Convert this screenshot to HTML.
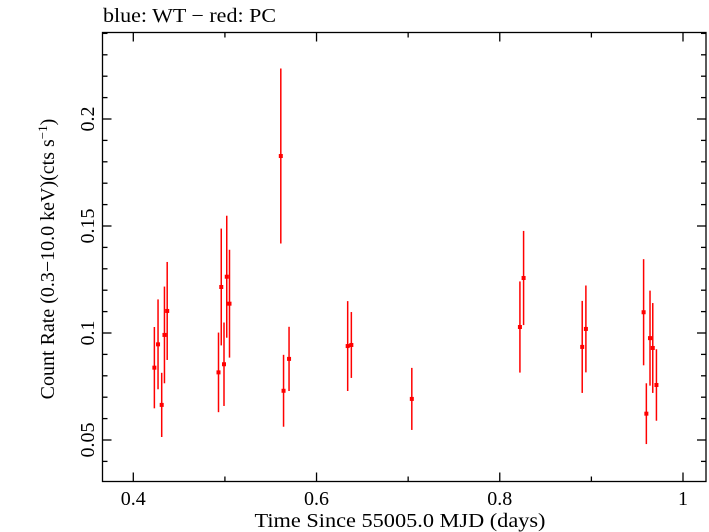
<!DOCTYPE html>
<html><head><meta charset="utf-8">
<style>
html,body{margin:0;padding:0;background:#fff;}
svg{display:block;font-family:"Liberation Serif",serif;}
</style></head>
<body>
<svg id="chart" width="709" height="532" viewBox="0 0 709 532" xmlns="http://www.w3.org/2000/svg">
<text x="103" y="22" font-size="20" textLength="173" lengthAdjust="spacingAndGlyphs">blue: WT − red: PC</text>
<rect x="102.5" y="32.5" width="603.5" height="449" fill="none" stroke="#000" stroke-width="1.3"/>
<g id="ticks"></g>
<g id="labels" font-size="20"></g>
<g id="marks"></g>
<text x="400" y="527" font-size="20" text-anchor="middle" textLength="291" lengthAdjust="spacingAndGlyphs">Time Since 55005.0 MJD (days)</text>
<text transform="translate(54,259) rotate(-90)" font-size="20" text-anchor="middle">Count Rate (0.3−10.0 keV)(cts s<tspan font-size="13" dy="-7">−1</tspan><tspan dy="7">)</tspan></text>
</svg>
<script>
const times=[0.423,0.427,0.431,0.434,0.437,0.493,0.496,0.499,0.502,0.505,0.561,0.564,0.570,0.634,0.638,0.704,0.822,0.826,0.890,0.894,0.957,0.960,0.964,0.967,0.971];
const rates=[0.0838,0.0947,0.0664,0.0991,0.1103,0.0816,0.1215,0.0854,0.1263,0.1137,0.1827,0.0730,0.0879,0.0939,0.0944,0.0692,0.1028,0.1257,0.0935,0.1019,0.1097,0.0623,0.0976,0.0930,0.0757];
const errors=[0.019,0.021,0.015,0.0226,0.0229,0.0186,0.0273,0.0195,0.0285,0.0252,0.0409,0.0168,0.015,0.021,0.0154,0.0145,0.0213,0.022,0.0215,0.0203,0.0248,0.0142,0.0222,0.021,0.0167];
const xTicks=[0.4,0.6,0.8,1.0];
const xTickLabels=["0.4","0.6","0.8","1"];
const yTicks=[0.05,0.1,0.15,0.2];
const yTickLabels=["0.05","0.1","0.15","0.2"];
const NS="http://www.w3.org/2000/svg";
const L=102.5,R=706,T=32.5,B=481.5;
function xs(v){return 133.3+(v-0.4)*(683-133.3)/0.6;}
function ys(v){return 333-(v-0.1)*2140;}
function mk(tag,attrs,parent){const e=document.createElementNS(NS,tag);for(const k in attrs)e.setAttribute(k,attrs[k]);parent.appendChild(e);return e;}
const tg=document.getElementById('ticks'),lg=document.getElementById('labels'),mg=document.getElementById('marks');
for(let i=4;i<=10;i++){const v=i/10,x=xs(v);if(x<L||x>R)continue;const maj=(i%2===0);const len=maj?9:5;
 const a=mk('line',{x1:x,x2:x,y1:B,y2:B-len,stroke:'#000','stroke-width':1.3},tg);
 
 const b=mk('line',{x1:x,x2:x,y1:T,y2:T+len,stroke:'#000','stroke-width':1.3},tg);
 }
for(let i=3;i<=24;i++){const v=i/100,y=ys(v);if(y<T||y>B)continue;const maj=(i%5===0);const len=maj?9:5;
 const a=mk('line',{x1:L,x2:L+len,y1:y,y2:y,stroke:'#000','stroke-width':1.3},tg);
 
 const b=mk('line',{x1:R,x2:R-len,y1:y,y2:y,stroke:'#000','stroke-width':1.3},tg);
 }
xTicks.forEach((v,i)=>{const t=mk('text',{x:xs(v),y:505,'text-anchor':'middle'},lg);t.textContent=xTickLabels[i];
 });
yTicks.forEach((v,i)=>{const y=ys(v);const t=mk('text',{transform:`translate(94,${y}) rotate(-90)`,'text-anchor':'middle'},lg);t.textContent=yTickLabels[i];
 });
times.forEach((t,i)=>{const x=xs(t),y=ys(rates[i]);
 const e=mk('line',{x1:x,x2:x,y1:ys(rates[i]+errors[i]),y2:ys(rates[i]-errors[i]),stroke:'#f00','stroke-width':1.5},mg);
 
 const p=mk('rect',{x:x-2,y:y-2,width:4,height:4,fill:'#f00'},mg);
 });
</script>
</body></html>
